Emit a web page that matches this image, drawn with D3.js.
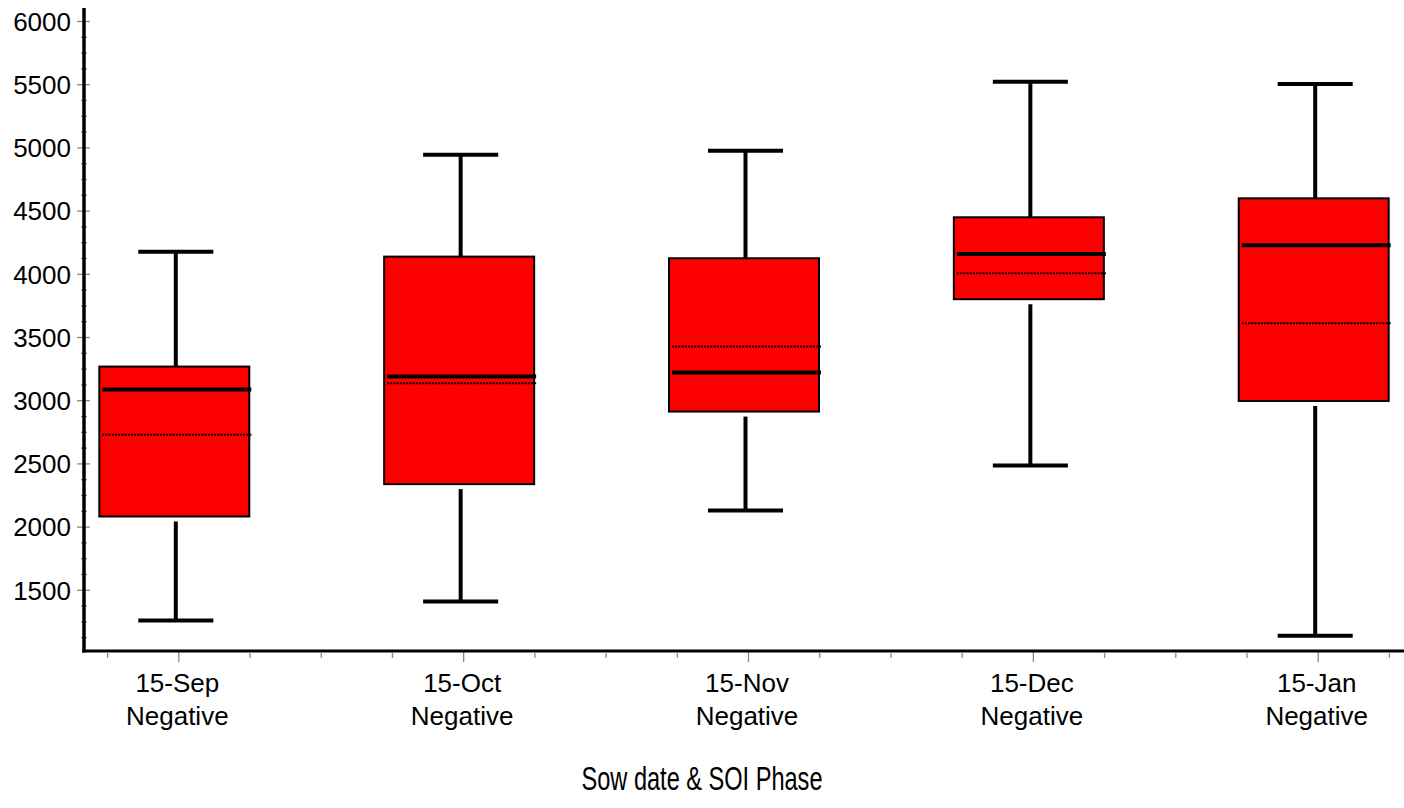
<!DOCTYPE html>
<html>
<head>
<meta charset="utf-8">
<script src="https://cdn.jsdelivr.net/npm/d3@7"></script>
<style>
  html, body { margin: 0; padding: 0; background: #fff; }
  svg { display: block; font-family: "Liberation Sans", Arial, sans-serif; }
</style>
</head>
<body>
<svg id="chart" width="1404" height="808"></svg>
<script>
// ---- data ----
const categories = ["15-Sep", "15-Oct", "15-Nov", "15-Dec", "15-Jan"];
const phases = ["Negative", "Negative", "Negative", "Negative", "Negative"];
const minVals    = [1257, 1407, 2127, 2483, 1136];
const q1Vals     = [2080, 2336, 2910, 3799, 2994];
const medianVals = [3085, 3187, 3219, 4157, 4225];
const meanVals   = [2726, 3134, 3424, 4004, 3608];
const q3Vals     = [3266, 4136, 4123, 4447, 4597];
const maxVals    = [4175, 4942, 4974, 5520, 5502];
const yTickLabels = [1500, 2000, 2500, 3000, 3500, 4000, 4500, 5000, 5500, 6000];
const xTitle = "Sow date & SOI Phase";

const data = categories.map((c, i) => ({
  idx: i + 1, cat: c, phase: phases[i],
  min: minVals[i], q1: q1Vals[i], med: medianVals[i], mean: meanVals[i], q3: q3Vals[i], max: maxVals[i]
}));

const svg = d3.select("#chart");
const x = d3.scaleLinear().domain([1, 5]).range([178.3, 1317.7]);
const y = d3.scaleLinear().domain([1000, 6000]).range([653, 21]);

const axisX = 84, axisY = 651;
const boxHalf = 0.2633, capHalf = 0.1317;
const boxShift = -4, whiskShift = -2.5;
const tickGray = "#8a8a8a";

// ---- y axis ticks ----
const minorY = d3.range(1125, 6001, 125).filter(v => v % 500 !== 0);
const gyMinor = svg.append("g").attr("transform", `translate(${axisX},0)`)
  .call(d3.axisLeft(y).tickValues(minorY).tickSize(3).tickFormat(""));
gyMinor.select(".domain").remove();
gyMinor.selectAll(".tick line").attr("x1", -3).attr("x2", 3).attr("stroke", tickGray).attr("stroke-width", 1.3);

const gy = svg.append("g").attr("transform", `translate(${axisX},0)`)
  .call(d3.axisLeft(y).tickValues(yTickLabels).tickSize(7).tickPadding(6).tickFormat(d3.format("d")));
gy.select(".domain").remove();
gy.selectAll(".tick line").attr("x1", -7).attr("x2", 6).attr("stroke", tickGray).attr("stroke-width", 1.3);
gy.selectAll(".tick text").attr("font-size", 26).attr("fill", "#000")
  .attr("font-family", "'Liberation Sans', Arial, sans-serif").attr("x", -13).attr("dy", "0.36em");

// ---- x axis ticks ----
const minorX = d3.range(0.75, 5.26, 0.25).filter(v => Math.abs(v - Math.round(v)) > 1e-6);
const gxMinor = svg.append("g").attr("transform", `translate(0,${axisY})`)
  .call(d3.axisBottom(x).tickValues(minorX).tickSize(7).tickFormat(""));
gxMinor.select(".domain").remove();
gxMinor.selectAll(".tick line").attr("y1", 2).attr("y2", 7).attr("stroke", tickGray).attr("stroke-width", 1.3);

const gx = svg.append("g").attr("transform", `translate(0,${axisY})`)
  .call(d3.axisBottom(x).tickValues(data.map(d => d.idx)).tickSize(11).tickFormat(""));
gx.select(".domain").remove();
gx.selectAll(".tick line").attr("y1", -1).attr("y2", 11).attr("stroke", tickGray).attr("stroke-width", 1.3);

const labels = svg.append("g");
data.forEach(d => {
  const t = labels.append("text").attr("text-anchor", "middle").attr("font-size", 26).attr("fill", "#000");
  t.append("tspan").attr("x", x(d.idx) - 1).attr("y", 692).text(d.cat);
  t.append("tspan").attr("x", x(d.idx) - 1).attr("y", 725).text(d.phase);
});

svg.append("text").attr("x", 702).attr("y", 790).attr("text-anchor", "middle")
  .attr("font-size", 34).attr("fill", "#000")
  .attr("textLength", 241).attr("lengthAdjust", "spacingAndGlyphs")
  .text(xTitle);

// ---- boxes ----
const g = svg.append("g");
data.forEach(d => {
  const cx = x(d.idx) + boxShift;
  const wx = x(d.idx) + whiskShift;
  const bw = x(1 + boxHalf) - x(1);
  const cw = x(1 + capHalf) - x(1);
  // upper whisker
  g.append("line").attr("x1", wx).attr("x2", wx).attr("y1", y(d.max)).attr("y2", y(d.q3))
    .attr("stroke", "#000").attr("stroke-width", 4);
  g.append("line").attr("x1", wx - cw).attr("x2", wx + cw).attr("y1", y(d.max)).attr("y2", y(d.max))
    .attr("stroke", "#000").attr("stroke-width", 4);
  // lower whisker
  g.append("line").attr("x1", wx).attr("x2", wx).attr("y1", y(d.q1) + 5).attr("y2", y(d.min))
    .attr("stroke", "#000").attr("stroke-width", 4);
  g.append("line").attr("x1", wx - cw).attr("x2", wx + cw).attr("y1", y(d.min)).attr("y2", y(d.min))
    .attr("stroke", "#000").attr("stroke-width", 4);
  // box
  g.append("rect").attr("x", cx - bw).attr("width", 2 * bw)
    .attr("y", y(d.q3)).attr("height", y(d.q1) - y(d.q3))
    .attr("fill", "#ff0000").attr("stroke", "#000").attr("stroke-width", 2);
  // mean (dotted)
  g.append("line").attr("x1", cx - bw + 3).attr("x2", cx + bw + 2).attr("y1", y(d.mean)).attr("y2", y(d.mean))
    .attr("stroke", "#000").attr("stroke-width", 2).attr("stroke-dasharray", "2,1.2");
  // median
  g.append("line").attr("x1", cx - bw + 3).attr("x2", cx + bw + 2).attr("y1", y(d.med)).attr("y2", y(d.med))
    .attr("stroke", "#000").attr("stroke-width", 4);
});

// ---- axis lines ----
svg.append("line").attr("x1", axisX).attr("x2", axisX).attr("y1", 8).attr("y2", axisY + 1.5)
  .attr("stroke", "#000").attr("stroke-width", 3.5);
svg.append("line").attr("x1", axisX - 1.75).attr("x2", 1404).attr("y1", axisY).attr("y2", axisY)
  .attr("stroke", "#000").attr("stroke-width", 3);
</script>
</body>
</html>
